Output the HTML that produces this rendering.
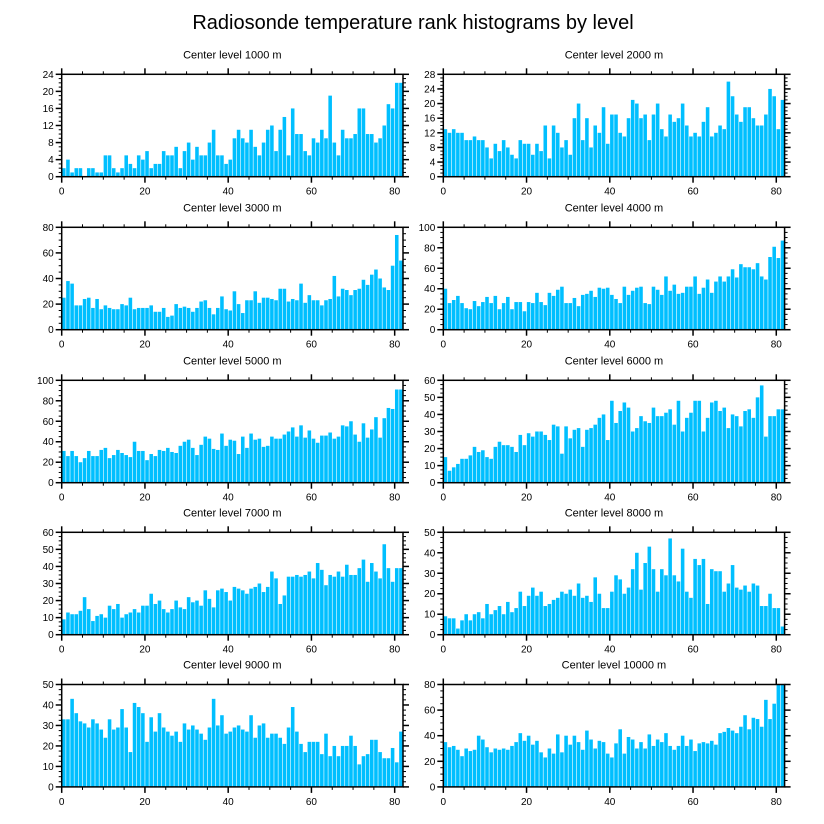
<!DOCTYPE html>
<html><head><meta charset="utf-8"><style>
html,body{margin:0;padding:0;background:#fff}
svg{display:block;font-family:"Liberation Sans",sans-serif}
</style></head><body>
<svg id="chart" width="824" height="824" viewBox="0 0 824 824">
<text x="413" y="29" text-anchor="middle" font-size="20">Radiosonde temperature rank histograms by level</text>
</svg>
<script>
const levels = ["Center level 1000 m","Center level 2000 m","Center level 3000 m","Center level 4000 m","Center level 5000 m","Center level 6000 m","Center level 7000 m","Center level 8000 m","Center level 9000 m","Center level 10000 m"];
const yMax = [24,28,80,100,100,60,60,50,50,80];
const yStep = [4,4,20,20,20,10,10,10,10,20];
const xTicks = [0,20,40,60,80];
const v1000 = [2,4,1,2,2,0,2,2,1,1,5,5,2,1,2,5,3,2,5,4,6,2,3,3,6,5,5,7,2,6,8,4,7,5,5,8,11,5,5,3,4,9,11,9,8,11,7,5,8,11,12,6,11,14,5,16,10,10,6,5,9,8,11,9,19,8,5,11,9,9,10,16,16,10,10,8,9,12,17,16,22,22];
const v2000 = [13,12,13,12,12,10,10,11,10,10,8,5,9,7,10,8,6,5,10,9,9,6,9,7,14,5,14,12,8,10,6,16,20,10,16,8,14,12,19,9,17,17,12,11,16,21,20,16,17,10,17,20,13,11,17,15,16,20,14,11,12,11,15,19,11,12,14,13,26,22,17,15,19,19,16,14,14,17,24,22,13,21];
const v3000 = [25,38,36,19,19,24,25,17,24,16,19,17,16,16,20,19,25,16,17,17,17,19,14,14,17,10,11,20,17,18,17,14,17,22,23,17,12,17,26,16,15,30,20,13,23,23,30,21,25,25,24,23,32,32,22,24,23,36,21,27,23,23,19,23,24,42,26,32,31,27,31,32,39,35,43,47,40,33,31,50,74,54];
const v4000 = [40,26,29,33,26,21,20,28,23,27,32,26,33,20,26,32,20,27,27,18,27,26,36,27,24,36,33,39,42,26,26,31,23,34,35,38,32,41,40,41,34,30,26,42,34,38,41,42,26,25,42,39,34,52,38,44,35,36,42,42,52,35,41,49,36,47,52,47,52,59,51,64,61,61,59,65,52,49,71,81,70,87];
const v5000 = [31,26,31,26,20,24,31,26,26,32,34,24,27,32,29,27,25,40,31,31,22,28,26,32,31,34,30,29,36,40,42,34,27,37,45,43,33,32,48,36,42,41,28,45,34,48,42,43,35,36,45,43,43,47,50,54,45,56,44,51,43,39,46,46,49,43,45,56,55,60,47,40,58,44,52,64,44,63,73,72,91,91];
const v6000 = [15,7,9,11,14,14,16,21,18,19,15,14,21,24,22,22,21,18,28,22,29,27,30,30,28,25,34,33,17,33,26,31,32,21,31,32,34,38,40,25,48,35,42,47,44,30,32,39,36,35,44,39,39,41,43,34,48,30,38,41,48,48,30,38,47,48,42,44,32,40,39,33,42,43,38,50,57,27,39,39,43,43];
const v7000 = [9,13,12,12,14,22,15,8,11,12,10,17,15,18,10,12,13,15,13,17,17,24,18,20,15,13,15,20,16,15,22,19,20,17,26,21,16,26,27,25,20,28,27,26,24,27,28,30,25,28,37,33,18,23,34,34,35,34,35,37,33,42,38,29,35,34,37,34,41,35,35,39,44,31,42,37,33,53,39,31,39,39];
const v8000 = [9,8,8,3,7,10,7,10,11,8,15,10,12,14,10,16,11,13,21,14,19,23,19,21,14,15,17,18,21,20,22,19,25,18,19,16,28,20,13,13,21,29,27,20,23,32,40,22,35,43,32,21,32,29,47,29,26,42,21,18,37,34,37,15,32,31,31,21,25,34,23,22,24,21,25,24,14,14,20,13,13,4];
const v9000 = [33,33,43,36,32,31,29,33,31,28,24,33,28,29,38,29,17,41,39,36,22,34,27,36,29,27,25,27,22,31,28,30,28,26,23,29,43,30,35,26,27,29,30,28,27,35,24,30,31,24,26,26,24,21,29,39,27,21,17,22,22,22,16,26,15,20,15,20,20,25,20,11,15,16,23,23,17,14,14,19,12,27];
const v10000 = [35,31,32,29,24,30,28,29,40,37,31,27,30,29,30,29,32,35,42,36,40,33,36,27,23,30,26,41,27,40,33,40,35,29,44,37,30,36,35,26,23,34,45,26,39,37,30,35,30,41,32,37,35,42,32,29,32,40,32,37,28,34,35,34,36,33,42,43,46,44,42,47,56,45,54,53,47,68,53,65,80,80];
const seriesList = [v1000,v2000,v3000,v4000,v5000,v6000,v7000,v8000,v9000,v10000];

const NS = "http://www.w3.org/2000/svg";
const svg = document.getElementById('chart');
function mk(tag, attrs, parent){const e=document.createElementNS(NS,tag);for(const k in attrs)e.setAttribute(k,attrs[k]);parent.appendChild(e);return e;}
const lefts=[61.7,443.3], W=341.3, tops=[74.3,227.3,380.3,532.3,684.5], H=102.4, XMAX=82;
for(let p=0;p<10;p++){
  const L=lefts[p%2], T=tops[Math.floor(p/2)], B=T+H, data=seriesList[p];
  const xs=v=>L+v/XMAX*W, ys=v=>B-v/yMax[p]*H;
  const g=mk('g',{},svg);
  
  
  const t=mk('text',{x:L+W/2,y:T-16,'text-anchor':'middle','font-size':'11'},g);
  
  
  t.textContent=levels[p];
  for(let i=0;i<data.length;i++){
    const r=mk('rect',{x:xs(i)+0.3,y:ys(data[i]),width:xs(i+1)-xs(i)-0.6,height:B-ys(data[i]),fill:'#00BFFF'},g);
    
    
  }
  // x ticks
  for(let v=0;v<=80;v+=5){
    const major=v%20===0, len=major?6:3, x=xs(v);
    mk('line',{x1:x,x2:x,y1:B,y2:B+len,stroke:'#000','stroke-width':major?1.5:1},g);
    mk('line',{x1:x,x2:x,y1:T,y2:T-len,stroke:'#000','stroke-width':major?1.5:1},g);
  }
  xTicks.forEach(v=>{
    const tl=mk('text',{x:xs(v),y:B+18,'text-anchor':'middle','font-size':'10'},g);
    
    
    tl.textContent=v;
  });
  // y ticks
  const minor=yStep[p]/4;
  for(let v=0;v<=yMax[p]+1e-9;v+=minor){
    const major=Math.abs(v/yStep[p]-Math.round(v/yStep[p]))<1e-6, len=major?6:3, y=ys(v);
    mk('line',{x1:L,x2:L-len,y1:y,y2:y,stroke:'#000','stroke-width':major?1.5:1},g);
    mk('line',{x1:L+W,x2:L+W+len,y1:y,y2:y,stroke:'#000','stroke-width':major?1.5:1},g);
    if(major){
      const yl=mk('text',{x:L-8,y:y+3.5,'text-anchor':'end','font-size':'10'},g);
      
      
      yl.textContent=Math.round(v);
    }
  }
  const f=mk('rect',{x:L,y:T,width:W,height:H,fill:'none',stroke:'#000','stroke-width':1.5},g);
  
  
}
</script>
</body></html>
